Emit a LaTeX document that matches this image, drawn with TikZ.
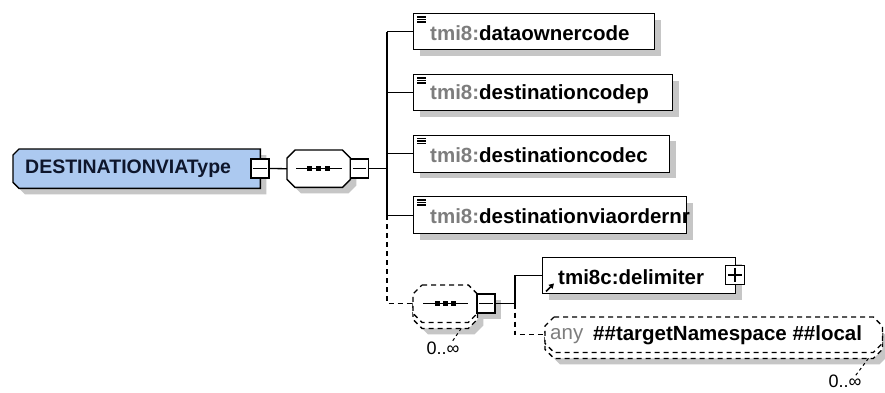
\documentclass[tikz,border=0pt]{standalone}
\usepackage{fontspec}
\setmainfont{Liberation Sans}
\usetikzlibrary{shadows,arrows.meta,calc}
\definecolor{shadowc}{RGB}{198,198,198}
\definecolor{typeblue}{RGB}{172,201,240}
\definecolor{prefixgray}{RGB}{125,125,125}
\definecolor{navy}{RGB}{14,22,44}
\newcommand{\octpath}[2]{([xshift=#2]#1.north west) -- ([xshift=-#2]#1.north east) -- ([yshift=-#2]#1.north east) -- ([yshift=#2]#1.south east) -- ([xshift=-#2]#1.south east) -- ([xshift=#2]#1.south west) -- ([yshift=#2]#1.south west) -- ([yshift=-#2]#1.north west) -- cycle}
\tikzset{
  sh/.style={drop shadow={shadow xshift=6pt,shadow yshift=-6pt,fill=shadowc,opacity=1}},
  frame/.style={draw=none,rectangle,inner sep=0pt,anchor=north west},
  elbox/.style={draw=black,line width=1.4pt,fill=white,sh,rectangle,inner sep=0pt,anchor=north west},
  lbl/.style={anchor=west,inner sep=0pt,font=\fontsize{20.5}{24}\selectfont\bfseries},
  btn/.style={draw=black,line width=1.2pt,fill=white,rectangle,inner sep=0pt,minimum width=18pt,minimum height=19pt},
  conn/.style={line width=1.3pt},
  optconn/.style={line width=1.3pt,dash pattern=on 5pt off 4pt},
  tail/.style={line width=1pt,dash pattern=on 3pt off 3pt},
  card/.style={inner sep=0pt,font=\fontsize{18}{20}\selectfont},
  icon/.style={line width=1.1pt}
}
\begin{document}
\begin{tikzpicture}[x=1pt,y=-1pt]
\useasboundingbox[fill=white] (0,0) rectangle (885,392);
% complex type
\node[frame,minimum width=247pt,minimum height=39pt] (typ) at (13,149) {};
\draw[line width=1.4pt,fill=typeblue,sh] ([xshift=6pt]typ.north west) -- (typ.north east) -- (typ.south east) -- ([xshift=6pt]typ.south west) -- ([yshift=6pt]typ.south west) -- ([yshift=-6pt]typ.north west) -- cycle;
\node[anchor=west,inner sep=0pt,text=navy,font=\fontsize{19.5}{24}\selectfont\bfseries] (typt) at ([xshift=12pt]typ.west) {DESTINATIONVIAType};
\node[btn] (typbtn) at (260,168.5) {};
\draw[line width=1.2pt] ([xshift=3pt]typbtn.west) -- ([xshift=-3pt]typbtn.east);
% sequence 1
\node[frame,minimum width=63pt,minimum height=37pt] (seq1) at (287,150) {};
\draw[line width=1.4pt,fill=white,sh] \octpath{seq1}{8pt};
\draw[line width=1.2pt] ([xshift=9pt]seq1.west) -- ([xshift=-8pt]seq1.east);
\foreach \dx in {-9,0,9} \fill ([xshift=\dx pt]seq1.center) ++(-2.5,-2.5) rectangle ++(5,5);
\node[btn] (seq1btn) at (359.5,168.5) {};
\draw[line width=1.2pt] ([xshift=3pt]seq1btn.west) -- ([xshift=-3pt]seq1btn.east);
% elements
\node[elbox,minimum width=241pt,minimum height=36pt] (e1) at (413,13) {};
\node[elbox,minimum width=259pt,minimum height=36pt] (e2) at (413,74) {};
\node[elbox,minimum width=256pt,minimum height=37pt] (e3) at (413,134.5) {};
\node[elbox,minimum width=273pt,minimum height=37pt] (e4) at (413,196) {};
\node[lbl] (e1t) at ([xshift=17pt,yshift=-1pt]e1.west) {\textcolor{prefixgray}{tmi8:}dataownercode};
\node[lbl] (e2t) at ([xshift=17pt,yshift=-1pt]e2.west) {\textcolor{prefixgray}{tmi8:}destinationcodep};
\node[lbl] (e3t) at ([xshift=17pt,yshift=-1pt]e3.west) {\textcolor{prefixgray}{tmi8:}destinationcodec};
\node[lbl] (e4t) at ([xshift=17pt,yshift=-1pt]e4.west) {\textcolor{prefixgray}{tmi8:}destinationviaordernr};
\foreach \e in {e1,e2,e3,e4} {
  \foreach \dy in {4,6.5,9} \draw[icon] ([shift={(4pt,-\dy pt)}]\e.north west) -- ++(9,0);
}
% connectors level 1
\coordinate (bus1) at (387,168.5);
\draw[conn] (typbtn.east) -- (seq1.west);
\draw[conn] (seq1btn.east) -- (bus1);
\draw[conn] (bus1 |- e1.west) -- (bus1 |- e4.west);
\foreach \e in {e1,e2,e3,e4} \draw[conn] (bus1 |- \e.west) -- (\e.west);
% sequence 2 (optional, repeated)
\node[frame,minimum width=64pt,minimum height=37pt] (seq2b) at (413,291) {};
\node[frame,minimum width=64pt,minimum height=37pt] (seq2) at (413,285) {};
\draw[optconn,fill=white,sh] \octpath{seq2b}{9pt};
\draw[optconn,fill=white] \octpath{seq2}{9pt};
\draw[line width=1.2pt] ([xshift=10pt]seq2.west) -- ([xshift=-9pt]seq2.east);
\foreach \dx in {-8,0,8} \fill ([xshift=\dx pt]seq2.center) ++(-2.5,-2.5) rectangle ++(5,5);
\node[btn,sh] (seq2btn) at (486,303.5) {};
\draw[line width=1.2pt] ([xshift=3pt]seq2btn.west) -- ([xshift=-3pt]seq2btn.east);
\draw[optconn] (bus1 |- e4.west) |- (seq2.west);
\node[card] (card1) at (443,348) {0..∞};
\draw[tail] ([xshift=16pt]seq2b.south) -- ([xshift=-8pt,yshift=-1pt]card1.north east);
% delimiter
\node[elbox,minimum width=193pt,minimum height=36pt] (delim) at (542,257) {};
\node[lbl] (delimt) at ([xshift=16pt,yshift=-1pt]delim.west) {tmi8c:delimiter};
\draw[line width=1.6pt,-{Triangle[length=5pt,width=5.5pt]}] ([shift={(4pt,3pt)}]delim.south west) -- ([shift={(12pt,11pt)}]delim.south west);
\node[btn,minimum width=19pt,minimum height=19pt] (delimbtn) at (735,275) {};
\draw[line width=1.2pt] ([xshift=3pt]delimbtn.west) -- ([xshift=-3pt]delimbtn.east);
\draw[line width=1.2pt] ([yshift=-3pt]delimbtn.north) -- ([yshift=3pt]delimbtn.south);
% any
\node[frame,minimum width=337pt,minimum height=35pt] (anyb) at (545,323) {};
\node[frame,minimum width=337pt,minimum height=35pt] (any) at (545,317) {};
\draw[optconn,fill=white,sh] \octpath{anyb}{9pt};
\draw[optconn,fill=white] \octpath{any}{9pt};
\node[anchor=west,inner sep=0pt,text=prefixgray,font=\fontsize{20.5}{24}\selectfont] (anyt) at ([xshift=5pt,yshift=-1pt]any.west) {any};
\node[lbl] (anyns) at ([xshift=48pt,yshift=-1pt]any.west) {\#\#targetNamespace \#\#local};
\node[card] (card2) at (845,381) {0..∞};
\draw[tail] ([xshift=-14pt]anyb.south east) -- ([xshift=-6pt,yshift=-1pt]card2.north east);
% connectors level 2
\coordinate (bus2) at (515,303.5);
\draw[conn] (seq2btn.east) -- (bus2);
\draw[conn] (bus2) |- (delim.west);
\draw[optconn] (bus2) |- (any.west);
\end{tikzpicture}
\end{document}
